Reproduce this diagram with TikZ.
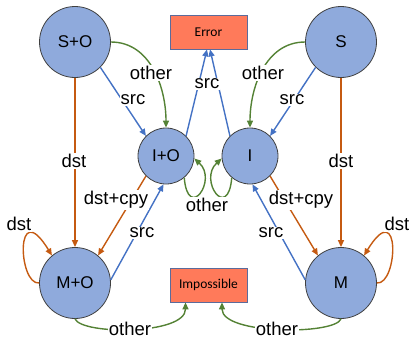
\documentclass[tikz,border=0pt]{standalone}
\usepackage{fontspec}
\setmainfont{Liberation Sans}
\newfontfamily\boxfont{Carlito}
\usetikzlibrary{arrows.meta}
\definecolor{cblue}{HTML}{4472C4}
\definecolor{corange}{HTML}{C55A11}
\definecolor{cgreen}{HTML}{548235}
\definecolor{cfill}{HTML}{8FAADC}
\definecolor{cbox}{HTML}{FF7A5A}
\definecolor{cboxline}{HTML}{5B6B9B}
\begin{document}
\begin{tikzpicture}[x=1pt,y=-1pt,
  state/.style={circle,draw=black!75,line width=0.8pt,fill=cfill,inner sep=0pt,font=\fontsize{17}{20}\selectfont},
  big/.style={state,minimum size=71pt},
  small/.style={state,minimum size=56pt},
  sink/.style={rectangle,draw=cboxline,line width=0.8pt,fill=cbox,minimum width=77pt,minimum height=34pt,inner sep=0pt,font=\boxfont\fontsize{13.5}{16}\selectfont},
  lbl/.style={fill=white,inner sep=1pt,font=\fontsize{18.5}{22}\selectfont},
  edgebase/.style={line width=1.4pt,-{Triangle[length=7pt,width=6pt]}},
  blueedge/.style={edgebase,draw=cblue},
  orangeedge/.style={edgebase,draw=corange},
  greenedge/.style={edgebase,draw=cgreen}]
\useasboundingbox (0,0) rectangle (412,338);
\node[big] (so) at (75,42) {S+O};
\node[big] (s) at (341,42) {S};
\node[small] (io) at (166,156) {I+O};
\node[small] (i) at (250,156) {I};
\node[big] (mo) at (75,283) {M+O};
\node[big] (m) at (341,283) {M};
\node[sink] (err) at (208.5,32) {Error};
\node[sink] (imp) at (208.5,285) {Impossible};
% edges
\draw[orangeedge] (so) -- (mo);
\draw[orangeedge] (s) -- (m);
\draw[blueedge] (so.-45) -- (io.135);
\draw[blueedge] (s.-135) -- (i.45);
\draw[greenedge] (so.east) to[out=0,in=90] (io.north);
\draw[greenedge] (s.west) to[out=180,in=90] (i.north);
\draw[blueedge] (io.45) -- ([xshift=-1.5pt]err.south);
\draw[blueedge] (i.135) -- ([xshift=1.5pt]err.south);
\draw[greenedge] (io.-50) .. controls (188,222) and (218,180) .. (io.-5);
\draw[greenedge] (i.-130) .. controls (228,222) and (198,180) .. (i.-175);
\draw[orangeedge] (io.-135) -- (mo.50);
\draw[blueedge] (mo.5) -- (io.-95);
\draw[orangeedge] (i.-45) -- (m.130);
\draw[blueedge] (m.175) -- (i.-85);
\draw[orangeedge] (mo.180) .. controls (18,285) and (15,195) .. (mo.130);
\draw[orangeedge] (m.0) .. controls (398,285) and (401,195) .. (m.50);
\draw[greenedge] (mo.south) .. controls (82,335) and (185.5,335) .. ([xshift=-23pt]imp.south);
\draw[greenedge] (m.south) .. controls (335,335) and (222,335) .. ([xshift=13.5pt]imp.south);
% labels
\node[lbl] (l1) at (74,161) {dst};
\node[lbl] (l2) at (341,161) {dst};
\node[lbl] (l3) at (133,100) {src};
\node[lbl] (l4) at (292,100) {src};
\node[lbl] (l5) at (151,73) {other};
\node[lbl] (l6) at (263,73) {other};
\node[lbl] (l7) at (207,84) {src};
\node[lbl] (l8) at (207,205) {other};
\node[lbl] (l9) at (116,200) {dst+cpy};
\node[lbl] (l10) at (142,233) {src};
\node[lbl] (l11) at (301,200) {dst+cpy};
\node[lbl] (l12) at (271,233) {src};
\node[lbl] (l13) at (19,224) {dst};
\node[lbl] (l14) at (397,224) {dst};
\node[lbl] (l15) at (130,329) {other};
\node[lbl] (l16) at (277,329) {other};
\end{tikzpicture}
\end{document}
